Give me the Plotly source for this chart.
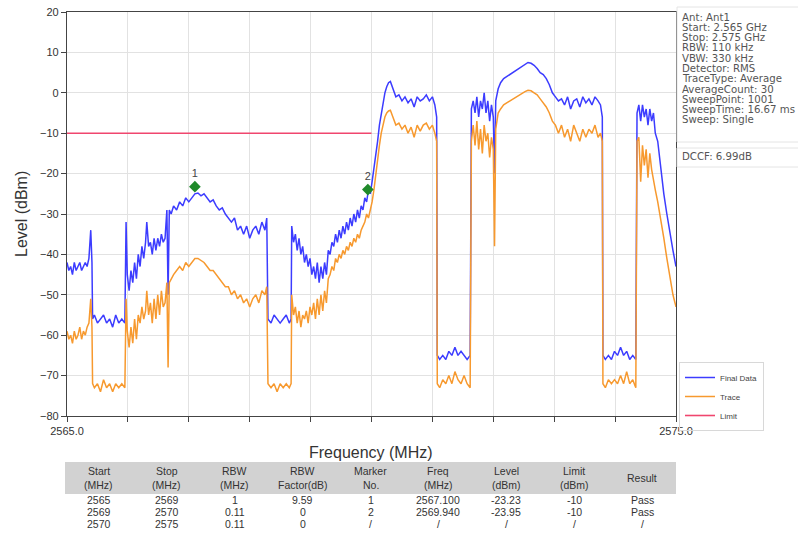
import plotly.graph_objects as go

# ---------------- data ----------------
freq = [
    2565.00, 2565.03, 2565.06, 2565.09, 2565.12, 2565.15, 2565.18, 2565.21, 2565.24, 2565.27,
    2565.30, 2565.33, 2565.36, 2565.39, 2565.41, 2565.42,
    2565.45, 2565.50, 2565.55, 2565.60, 2565.65, 2565.70, 2565.75, 2565.80, 2565.85, 2565.90,
    2565.95, 2565.97, 2565.99, 2566.02, 2566.05, 2566.08, 2566.11, 2566.14, 2566.17, 2566.20,
    2566.23, 2566.26, 2566.29, 2566.31, 2566.34, 2566.37, 2566.40, 2566.43, 2566.46, 2566.49,
    2566.52, 2566.55, 2566.58, 2566.61, 2566.64, 2566.66, 2566.68, 2566.71, 2566.75, 2566.80,
    2566.85, 2566.90, 2566.95, 2567.00, 2567.05, 2567.10, 2567.15, 2567.20, 2567.25, 2567.30,
    2567.35, 2567.40, 2567.45, 2567.50, 2567.55, 2567.60, 2567.65, 2567.70, 2567.75, 2567.80,
    2567.85, 2567.90, 2567.95, 2568.00, 2568.05, 2568.10, 2568.15, 2568.20, 2568.25, 2568.28,
    2568.30, 2568.35, 2568.40, 2568.45, 2568.50, 2568.55, 2568.60, 2568.65, 2568.68,
    2568.69, 2568.72, 2568.75, 2568.78, 2568.81, 2568.84, 2568.87, 2568.90, 2568.93, 2568.96,
    2568.99, 2569.02, 2569.05, 2569.08, 2569.11, 2569.14, 2569.17, 2569.20, 2569.23, 2569.26,
    2569.29, 2569.32, 2569.35, 2569.38, 2569.41, 2569.44, 2569.47, 2569.50, 2569.53, 2569.56,
    2569.59, 2569.62, 2569.65, 2569.68, 2569.71, 2569.74, 2569.77, 2569.80, 2569.83, 2569.86,
    2569.89, 2569.92, 2569.95, 2569.98, 2570.01, 2570.04, 2570.07, 2570.10, 2570.13, 2570.16,
    2570.19, 2570.22, 2570.25, 2570.28, 2570.31, 2570.34, 2570.37, 2570.40, 2570.45, 2570.50,
    2570.55, 2570.60, 2570.65, 2570.70, 2570.75, 2570.80, 2570.85, 2570.90, 2570.95, 2571.00,
    2571.04, 2571.07, 2571.08,
    2571.12, 2571.17, 2571.22, 2571.27, 2571.32, 2571.37, 2571.42, 2571.47, 2571.52, 2571.57,
    2571.62, 2571.64, 2571.67, 2571.70, 2571.73, 2571.76, 2571.79, 2571.82, 2571.85, 2571.88,
    2571.91, 2571.94, 2571.97, 2572.00, 2572.02, 2572.04, 2572.08, 2572.12, 2572.17, 2572.22,
    2572.27, 2572.32, 2572.37, 2572.42, 2572.47, 2572.52, 2572.57, 2572.62, 2572.67, 2572.72,
    2572.77, 2572.82, 2572.87, 2572.92, 2572.97, 2573.02, 2573.07, 2573.12, 2573.17, 2573.22,
    2573.27, 2573.32, 2573.37, 2573.42, 2573.47, 2573.52, 2573.57, 2573.62, 2573.67, 2573.72,
    2573.76, 2573.79, 2573.80,
    2573.84, 2573.89, 2573.94, 2573.99, 2574.04, 2574.09, 2574.14, 2574.19, 2574.24, 2574.29,
    2574.34, 2574.36, 2574.39, 2574.42, 2574.45, 2574.48, 2574.51, 2574.54, 2574.57, 2574.60,
    2574.63, 2574.66, 2574.70, 2574.75, 2574.80, 2574.85, 2574.90, 2574.95, 2575.00,
]

final_data = [
    -42, -44, -43, -45, -42, -44, -43, -42, -44, -43,
    -42, -43, -41, -34, -42, -56,
    -55, -57, -56, -55, -57, -56, -58, -55, -57, -56,
    -57, -32, -45, -49, -44, -47, -42, -46, -40, -43,
    -38, -41, -37, -32, -38, -37, -40, -36, -39, -36,
    -38, -35, -37, -36, -29, -50, -29, -30, -28, -29,
    -27, -28, -26, -27, -26, -25, -24.8, -25.5, -25, -26,
    -27, -26.5, -28, -29, -28.5, -30, -31, -32, -31, -34,
    -33, -35, -33, -36, -34, -33, -35, -32, -34, -31,
    -56, -57, -55, -56, -57, -56, -55, -57, -56,
    -33, -37, -35, -39, -36, -40, -38, -42, -40, -43,
    -41, -45, -43, -46, -42, -47, -43, -46, -42, -45,
    -39, -40, -37, -38, -35, -37, -34, -36, -33, -35,
    -32, -34, -31, -33, -30, -32, -29, -31, -28, -29,
    -26, -27, -24, -25, -22, -19, -16, -12, -8, -5,
    -2, 0, 1.5, 2.5, 2.8, 1.5, 0, -1, -0.5, -2,
    -1, -2.5, -1.5, -3.5, -1, -2, -1.5, -0.5, -2, -1,
    -3, -6, -65,
    -66, -65, -66, -64, -65, -63, -65, -64, -65, -66,
    -65, -4, -2, -5, -1, -6, -2, -4, 0, -5,
    -2, -7, -3, -6, -20, -2, 1, 2.5, 3.5, 4,
    4.5, 5, 5.5, 6, 6.5, 7, 7.5, 7.3, 6.8, 6,
    5, 4.5, 3.5, 2, 0, -1, -2, -1.5, -3, -1,
    -4, -2, -1.5, -3.5, -1, -2.5, -1.5, -3, -1, -2,
    -3, -6, -65,
    -66, -65, -66, -64, -65, -63, -65, -64, -66, -65,
    -66, -5, -3, -7, -3, -6, -4, -8, -4, -7,
    -5, -10, -12, -19, -25, -30, -35, -39, -43,
]

trace = [
    -59, -61, -60, -62, -59, -61, -60, -58, -61, -59,
    -60, -58, -57, -51, -58, -72,
    -73, -72, -74, -71, -73, -72, -74, -72, -73, -72,
    -73, -51, -59, -63, -58, -62, -56, -61, -55, -57,
    -53, -56, -54, -49, -55, -52, -57, -51, -56, -50,
    -55, -49, -53, -52, -47, -68, -47, -46, -45, -44,
    -43, -44, -42, -43, -42, -41, -41, -41.5, -42, -43,
    -44, -44, -45, -46, -47, -48, -48, -50, -49, -51,
    -50, -52, -51, -53, -51, -50, -52, -49, -50, -48,
    -72, -73, -72, -74, -72, -73, -72, -73, -72,
    -50, -55, -53, -57, -54, -58, -55, -56, -54, -57,
    -53, -55, -52, -56, -51, -55, -50, -54, -49, -52,
    -46, -45, -43, -44, -41, -42, -40, -41, -39, -40,
    -38, -39, -37, -38, -36, -37, -35, -36, -34, -33,
    -32, -30, -31, -29, -27, -24, -20, -16, -13, -10,
    -8, -6, -5, -4.5, -4.3, -5.5, -6.5, -8, -7.5, -9,
    -8, -10, -8.5, -11, -8, -9.5, -8, -7.5, -9, -8,
    -10, -12, -72,
    -73, -71, -72, -70, -72, -69, -71, -72, -70, -72,
    -73, -12, -8, -13, -7, -14, -9, -15, -8, -12,
    -10, -16, -11, -14, -38, -9, -5, -4, -3, -2.5,
    -2, -1.5, -1, -0.5, 0, 0.3, 0.6, 0.5, 0, -0.5,
    -1.5, -2.5, -3.5, -5, -7, -8, -10, -8, -11, -9,
    -12, -8, -10, -12, -9, -11, -9, -10, -8, -11,
    -10, -12, -72,
    -73, -71, -72, -71, -72, -70, -72, -69, -72, -71,
    -73, -12, -11, -22, -13, -18, -14, -21, -15, -19,
    -22, -24, -27, -31, -36, -41, -46, -50, -53,
]

limit_freq = [2565.0, 2570.0]
limit_level = [-10, -10]

marker_no = ["1", "2"]
marker_freq = [2567.100, 2569.940]
marker_level = [-23.23, -23.95]

x_tick_vals = [2565, 2566, 2567, 2568, 2569, 2570, 2571, 2572, 2573, 2574, 2575]
x_tick_text = ["2565.0", "", "", "", "", "", "", "", "", "", "2575.0"]
y_tick_vals = [20, 10, 0, -10, -20, -30, -40, -50, -60, -70, -80]

info_lines = [
    "Ant: Ant1", "Start: 2.565 GHz", "Stop: 2.575 GHz", "RBW: 110 kHz",
    "VBW: 330 kHz", "Detector: RMS", "TraceType: Average", "AverageCount: 30",
    "SweepPoint: 1001", "SweepTime: 16.67 ms", "Sweep: Single",
]
dccf_text = "DCCF: 6.99dB"

table_header = [["Start", "(MHz)"], ["Stop", "(MHz)"], ["RBW", "(MHz)"], ["RBW", "Factor(dB)"],
                ["Marker", "No."], ["Freq", "(MHz)"], ["Level", "(dBm)"], ["Limit", "(dBm)"],
                ["Result"]]
col_start = ["2565", "2569", "2570"]
col_stop = ["2569", "2570", "2575"]
col_rbw = ["1", "0.11", "0.11"]
col_rbw_factor = ["9.59", "0", "0"]
col_marker = ["1", "2", "/"]
col_freq = ["2567.100", "2569.940", "/"]
col_level = ["-23.23", "-23.95", "/"]
col_limit = ["-10", "-10", "/"]
col_result = ["Pass", "Pass", "/"]
table_columns = [col_start, col_stop, col_rbw, col_rbw_factor, col_marker,
                 col_freq, col_level, col_limit, col_result]

# ---------------- layout helpers (pixel -> paper) ----------------
W, H = 798, 539
ML, MR, MT, MB = 65, 122, 12, 6
PW, PH = W - ML - MR, H - MT - MB


def px(x):
    return (x - ML) / PW


def py(y):
    return (H - MB - y) / PH


FONT = "Liberation Sans, Arial, sans-serif"
INFO_FONT = "DejaVu Sans, Liberation Sans, sans-serif"

fig = go.Figure()

fig.add_trace(go.Scatter(x=freq, y=final_data, mode="lines", name="Final Data",
                         line=dict(color="#3c3cff", width=1.5)))
fig.add_trace(go.Scatter(x=freq, y=trace, mode="lines", name="Trace",
                         line=dict(color="#f7992e", width=1.5)))
fig.add_trace(go.Scatter(x=limit_freq, y=limit_level, mode="lines", name="Limit",
                         line=dict(color="#f0466e", width=1.6)))
fig.add_trace(go.Scatter(x=marker_freq, y=marker_level, mode="markers+text", text=marker_no,
                         textposition="top center", showlegend=False,
                         textfont=dict(size=11, color="#444", family=FONT),
                         marker=dict(symbol="diamond", size=9, color="#1f8a2a")))

annotations = []
for i, line in enumerate(info_lines):
    annotations.append(dict(x=px(680), y=py(17 + i * 10.3), xref="paper", yref="paper",
                            text=line, showarrow=False, xanchor="left", yanchor="middle",
                            font=dict(size=10.2, color="#555", family=INFO_FONT)))
annotations.append(dict(x=px(680), y=py(157), xref="paper", yref="paper",
                        text=dccf_text, showarrow=False, xanchor="left", yanchor="middle",
                        font=dict(size=10.2, color="#555", family=INFO_FONT)))

# axis titles placed explicitly
annotations.append(dict(x=px(371), y=py(452), xref="paper", yref="paper", text="Frequency (MHz)",
                        showarrow=False, xanchor="center", yanchor="middle",
                        font=dict(size=16, color="#333", family=FONT)))
annotations.append(dict(x=px(21), y=py(214), xref="paper", yref="paper", text="Level (dBm)",
                        showarrow=False, xanchor="center", yanchor="middle", textangle=-90,
                        font=dict(size=16, color="#333", family=FONT)))

# table drawn as text grid
TBL_X0, TBL_X1 = 65, 676
col_w = (TBL_X1 - TBL_X0) / len(table_columns)
for ci, (head, col) in enumerate(zip(table_header, table_columns)):
    cx = px(TBL_X0 + col_w * (ci + 0.5))
    if len(head) == 2:
        head_pos = [471, 485]
    else:
        head_pos = [478]
    for hl, hy in zip(head, head_pos):
        annotations.append(dict(x=cx, y=py(hy), xref="paper", yref="paper", text=hl,
                                showarrow=False, xanchor="center", yanchor="middle",
                                font=dict(size=10.5, color="#333", family=FONT)))
    for ri, val in enumerate(col):
        annotations.append(dict(x=cx, y=py(500 + ri * 12), xref="paper", yref="paper",
                                text=val, showarrow=False, xanchor="center", yanchor="middle",
                                font=dict(size=10.5, color="#333", family=FONT)))

shapes = [
    dict(type="rect", xref="paper", yref="paper", x0=px(677), x1=px(805), y0=py(142), y1=py(7),
         line=dict(color="#e4e4e4", width=1)),
    dict(type="rect", xref="paper", yref="paper", x0=px(677), x1=px(805), y0=py(167), y1=py(148),
         line=dict(color="#e4e4e4", width=1)),
    dict(type="rect", xref="paper", yref="paper", x0=px(TBL_X0), x1=px(TBL_X1),
         y0=py(494), y1=py(462), fillcolor="#d2d2d2", line=dict(width=0), layer="below"),
]

fig.update_layout(
    width=W, height=H,
    margin=dict(l=ML, r=MR, t=MT, b=MB, autoexpand=False),
    paper_bgcolor="white", plot_bgcolor="white",
    font=dict(family=FONT, color="#333"),
    showlegend=True,
    legend=dict(x=px(679), y=py(362), xanchor="left", yanchor="top",
                bordercolor="#d8d8d8", borderwidth=1, bgcolor="rgba(255,255,255,0)", itemwidth=30,
                font=dict(size=8, color="#444", family=FONT), tracegroupgap=0),
    xaxis=dict(domain=[px(67), 1], range=[2565, 2575], tickvals=x_tick_vals, ticktext=x_tick_text,
               showgrid=True, gridcolor="#e2e2e2", gridwidth=1, zeroline=False, automargin=False,
               showline=True, linecolor="#444", linewidth=1.2, mirror=True,
               ticks="outside", ticklen=5, tickcolor="#444",
               tickfont=dict(size=11, color="#333", family=FONT)),
    yaxis=dict(domain=[py(416), py(12)], range=[-80, 20], tickvals=y_tick_vals,
               showgrid=True, gridcolor="#e2e2e2", gridwidth=1, zeroline=False, automargin=False,
               showline=True, linecolor="#444", linewidth=1.2, mirror=True,
               ticks="outside", ticklen=5, tickcolor="#444",
               tickfont=dict(size=11, color="#333", family=FONT)),
    annotations=annotations,
    shapes=shapes,
)

fig.write_html("out.html", config={"displayModeBar": False},
               post_script="document.body.style.margin='0px';")
